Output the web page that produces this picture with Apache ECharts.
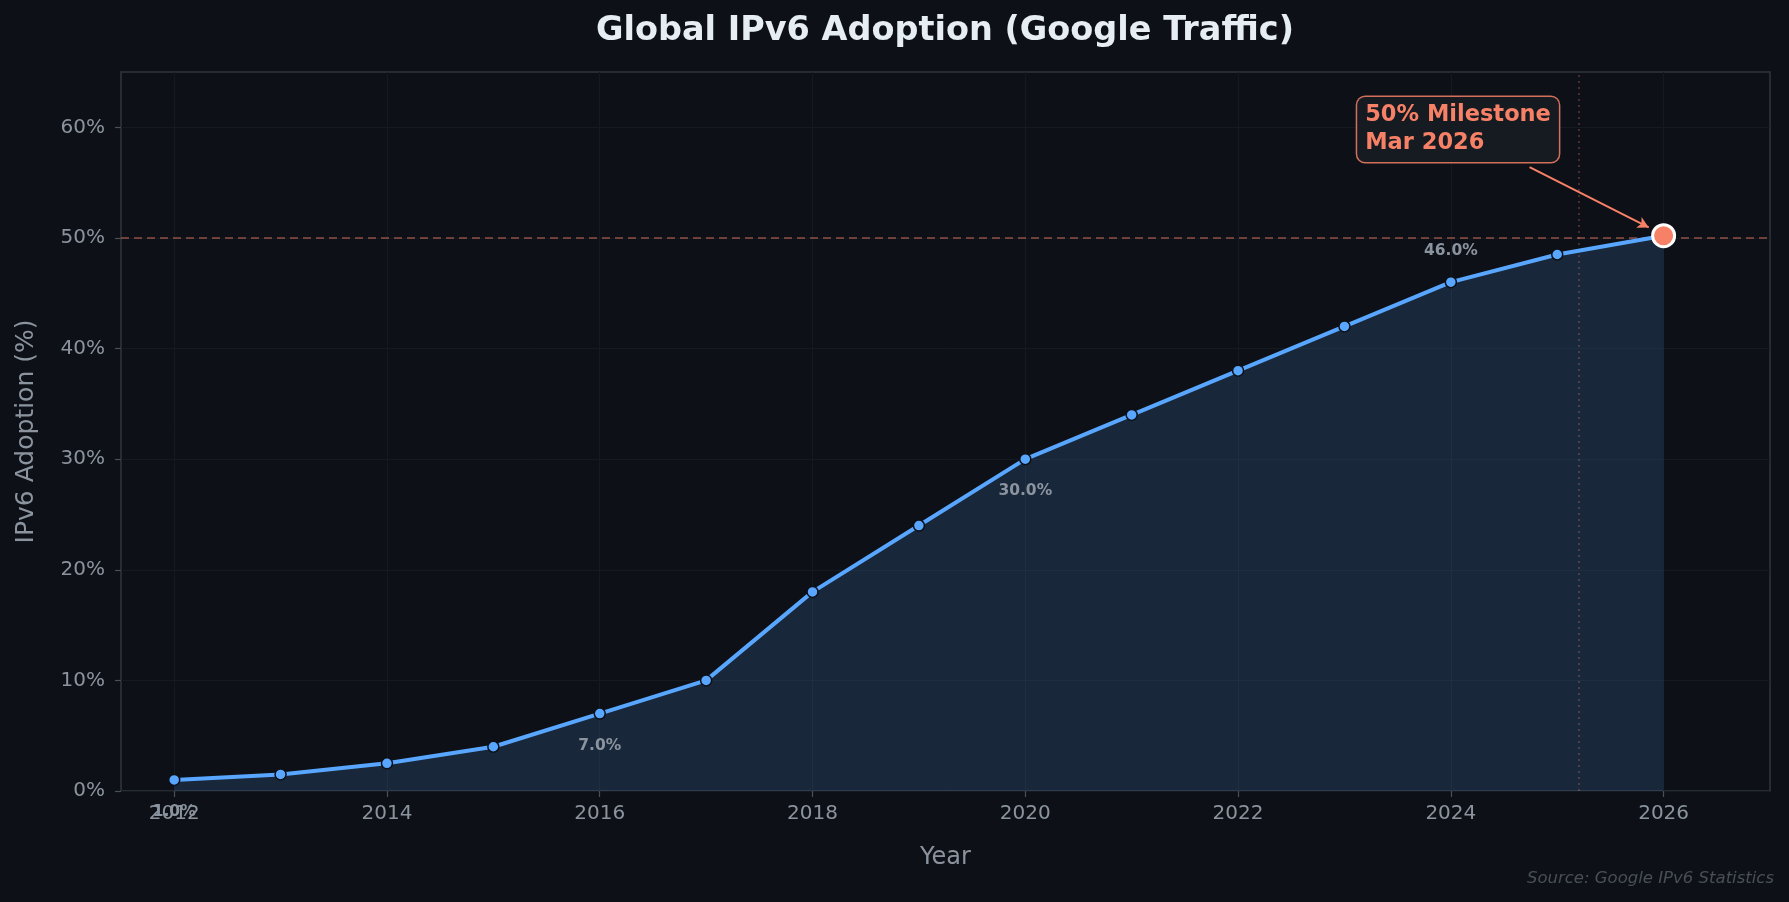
<!DOCTYPE html>
<html>
<head>
<meta charset="utf-8">
<script src="https://cdn.jsdelivr.net/npm/echarts@6/dist/echarts.min.js"></script>
<style>
  html, body { margin: 0; padding: 0; background: #0d1117; }
  #chart { width: 1789px; height: 902px; }
</style>
</head>
<body>
<div id="chart"></div>
<script>
// ---- Data ----
const YEARS = [2012, 2013, 2014, 2015, 2016, 2017, 2018, 2019, 2020, 2021, 2022, 2023, 2024, 2025, 2026];
const ADOPTION = [1.0, 1.5, 2.5, 4.0, 7.0, 10.0, 18.0, 24.0, 30.0, 34.0, 38.0, 42.0, 46.0, 48.5, 50.2];
const LABELS_BELOW = [2012, 2016, 2020];
const LABELS_ABOVE = [2024];
const X_TICKS = [2012, 2014, 2016, 2018, 2020, 2022, 2024, 2026];
const Y_TICKS = [0, 10, 20, 30, 40, 50, 60];
const MILESTONE_YEAR = 2026;
const MILESTONE_VALUE = 50.2;
const MILESTONE_LEVEL = 50;
const MARKER_YEAR = 2025.2;
const ANNOT_TEXT = ['50% Milestone', 'Mar 2026'];
const TITLE = 'Global IPv6 Adoption (Google Traffic)';
const SOURCE = 'Source: Google IPv6 Statistics';

// annotation placement (data units)
const ANNOT_POS = [2023.12, 59.8];
const ARROW_FROM = [2024.74, 56.4];
const ARROW_TO = [2025.86, 50.95];

const FONT = '"DejaVu Sans", sans-serif';
const TICK_COLOR = '#8b949e';
const ORANGE = '#f78166';
const BLUE = '#58a6ff';

const chart = echarts.init(document.getElementById('chart'), null, { renderer: 'canvas' });

const lineData = YEARS.map((y, i) => {
  const item = { value: [y, ADOPTION[i]] };
  const lbl = { show: true, position: 'inside', formatter: ADOPTION[i].toFixed(1) + '%',
    color: TICK_COLOR, fontFamily: FONT, fontWeight: 'bold', fontSize: 15.5 };
  if (LABELS_BELOW.includes(y)) item.label = Object.assign({}, lbl, { offset: [0, 32] });
  if (LABELS_ABOVE.includes(y)) item.label = Object.assign({}, lbl, { offset: [0, -31] });
  return item;
});

const gridLines = X_TICKS.map(x => ({ xAxis: x, lineStyle: { color: '#151a21', width: 1, type: 'solid' } }));

const option = {
  backgroundColor: '#0d1117',
  animation: false,
  grid: { left: 121, right: 19, top: 72, bottom: 111, show: true, borderColor: '#30363d', borderWidth: 1.5, backgroundColor: 'transparent' },
  xAxis: {
    type: 'value', min: 2011.5, max: 2027,
    name: 'Year', nameLocation: 'middle', nameGap: 55,
    nameTextStyle: { color: TICK_COLOR, fontFamily: FONT, fontSize: 24 },
    axisLine: { show: false },
    axisTick: { show: true, customValues: X_TICKS, length: 6, lineStyle: { color: '#484f58', width: 1.2 } },
    axisLabel: { customValues: X_TICKS, color: TICK_COLOR, fontFamily: FONT, fontSize: 20, margin: 13, formatter: v => String(v) },
    splitLine: { show: false }
  },
  yAxis: {
    type: 'value', min: 0, max: 65, interval: 10,
    name: 'IPv6 Adoption (%)', nameLocation: 'middle', nameGap: 82,
    nameTextStyle: { color: TICK_COLOR, fontFamily: FONT, fontSize: 25 },
    axisLine: { show: false },
    axisTick: { show: true, customValues: Y_TICKS, length: 6, lineStyle: { color: '#484f58', width: 1.2 } },
    axisLabel: { customValues: Y_TICKS, color: TICK_COLOR, fontFamily: FONT, fontSize: 20, margin: 16, formatter: v => v + '%' },
    splitLine: { show: true, lineStyle: { color: '#151a21', width: 1 } }
  },
  graphic: [
    { type: 'text', x: 945, y: 31, style: { text: TITLE, align: 'center', verticalAlign: 'middle',
      font: 'bold 33.5px "DejaVu Sans", sans-serif', fill: '#e6edf3' } },
    { type: 'text', x: 1774, y: 879, style: { text: SOURCE, align: 'right', verticalAlign: 'middle',
      font: 'italic 16.5px "DejaVu Sans", sans-serif', fill: '#484f58' } }
  ],
  series: [
    {
      type: 'line', data: lineData, z: 3,
      symbol: 'circle', symbolSize: 11,
      itemStyle: { color: BLUE, borderColor: '#0d1117', borderWidth: 1.5 },
      lineStyle: { color: BLUE, width: 4 },
      areaStyle: { color: 'rgba(88,166,255,0.15)', opacity: 1, origin: 'start' },
      markLine: {
        silent: true, symbol: ['none', 'none'], label: { show: false }, z: 1,
        data: gridLines.concat([
          { yAxis: MILESTONE_LEVEL, lineStyle: { color: 'rgba(247,129,102,0.55)', width: 1.5, type: [8, 5] } },
          { xAxis: MARKER_YEAR, lineStyle: { color: 'rgba(247,129,102,0.35)', width: 1.5, type: [2, 4] } }
        ])
      }
    },
    {
      type: 'scatter', z: 5,
      data: [[MILESTONE_YEAR, MILESTONE_VALUE]],
      symbol: 'circle', symbolSize: 22,
      itemStyle: { color: ORANGE, borderColor: '#ffffff', borderWidth: 3, opacity: 1 },
      markLine: {
        silent: true, symbol: ['none', 'arrow'], symbolSize: [9, 11], label: { show: false },
        lineStyle: { color: ORANGE, width: 2, type: 'solid' },
        data: [[{ coord: ARROW_FROM }, { coord: ARROW_TO }]]
      },
      markPoint: {
        silent: true, symbol: 'rect', symbolSize: 1, itemStyle: { color: 'transparent' },
        data: [{ coord: ANNOT_POS, value: 0 }],
        label: {
          show: true, position: 'inside', formatter: ANNOT_TEXT.join('\n'),
          color: ORANGE, fontFamily: FONT, fontWeight: 'bold', fontSize: 22.5, lineHeight: 28, align: 'left',
          backgroundColor: '#161b22', borderColor: 'rgba(247,129,102,0.85)', borderWidth: 1.5, borderRadius: 8,
          padding: [5, 8, 4, 8]
        }
      }
    }
  ]
};
chart.setOption(option);
</script>
</body>
</html>
